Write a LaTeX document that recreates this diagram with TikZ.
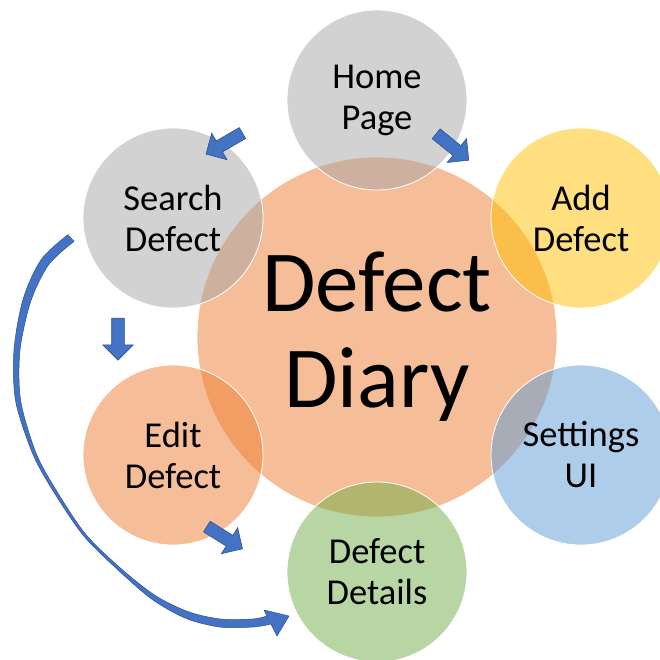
\documentclass[tikz,border=0pt]{standalone}
\usepackage{fontspec}
\setmainfont{Carlito}
\usetikzlibrary{shapes.arrows}
\definecolor{officegray}{RGB}{165, 165, 165}
\definecolor{officeorange}{RGB}{237, 125, 49}
\definecolor{officeyellow}{RGB}{255, 192, 0}
\definecolor{officeblue}{RGB}{91, 155, 213}
\definecolor{officegreen}{RGB}{112, 173, 71}
\definecolor{arrowblue}{RGB}{68, 114, 196}
\definecolor{arrowedge}{RGB}{47, 82, 143}

\begin{document}
\begin{tikzpicture}[x=1pt, y=-1pt,
        bubble/.style={circle, draw=white, line width=0.8pt, fill opacity=0.5, text opacity=1,
                       minimum size=180pt, inner sep=0pt, align=center,
                       font=\fontsize{36.5}{41}\selectfont},
        flow/.style={single arrow, draw=arrowedge, fill=arrowblue, line width=0.6pt,
                     minimum height=42pt, minimum width=0pt, inner xsep=0pt, inner ysep=6pt,
                     single arrow head extend=9pt}]
            \useasboundingbox (0,0) rectangle (660,659);
            \clip (0,0) rectangle (660,659);
            % hub
            \node[bubble, fill=officeorange, minimum size=360pt, font=\fontsize{87}{96}\selectfont]
                 (diary) at (377,337) {Defect\\Diary};
            % satellites
            \node[bubble, fill=officegray]   (home)     at (377,100) {Home\\Page};
            \node[bubble, fill=officeyellow] (add)      at (581,218) {Add\\Defect};
            \node[bubble, fill=officeblue]   (settings) at (581,455) {Settings\\UI};
            \node[bubble, fill=officegreen]  (details)  at (377,572) {Defect\\Details};
            \node[bubble, fill=officeorange] (edit)     at (173,455) {Edit\\Defect};
            \node[bubble, fill=officegray]   (search)   at (173,218) {Search\\Defect};
            % block arrows
            \node[flow, rotate=210] (toSearch)  at (227,142) {};
            \node[flow, rotate=-39] (toAdd)     at (450,145) {};
            \node[flow, rotate=-90] (toEdit)    at (118,336) {};
            \node[flow, rotate=-32] (toDetails) at (222,536) {};
            % long curved arrow search -> details
            \filldraw[arrowblue, draw=arrowedge, line width=0.5pt, line join=round]
                 plot[smooth, tension=0.5] coordinates {(67.9,234.7) (41.3,259.4) (23.2,298.8) (14,349.7) (15.5,400.4) (31.4,450.6) (48.7,483.8) (82,533.8) (116,568.1) (151.6,599) (185.7,618.3) (219.5,627) (253.2,627) (271,624)}
                 -- (277,636) -- (289,616) -- (264,610)
                 -- plot[smooth, tension=0.5] coordinates {(267,616) (252.8,619) (220.5,619) (188.3,611.7) (154.4,595) (118,565.9) (84,532.2) (51.3,482.2) (34.6,449.4) (20.5,399.6) (20,350.3) (30.8,301.2) (48.7,264.6) (74.1,241.3)}
                 -- cycle;
        \end{tikzpicture}
\end{document}
